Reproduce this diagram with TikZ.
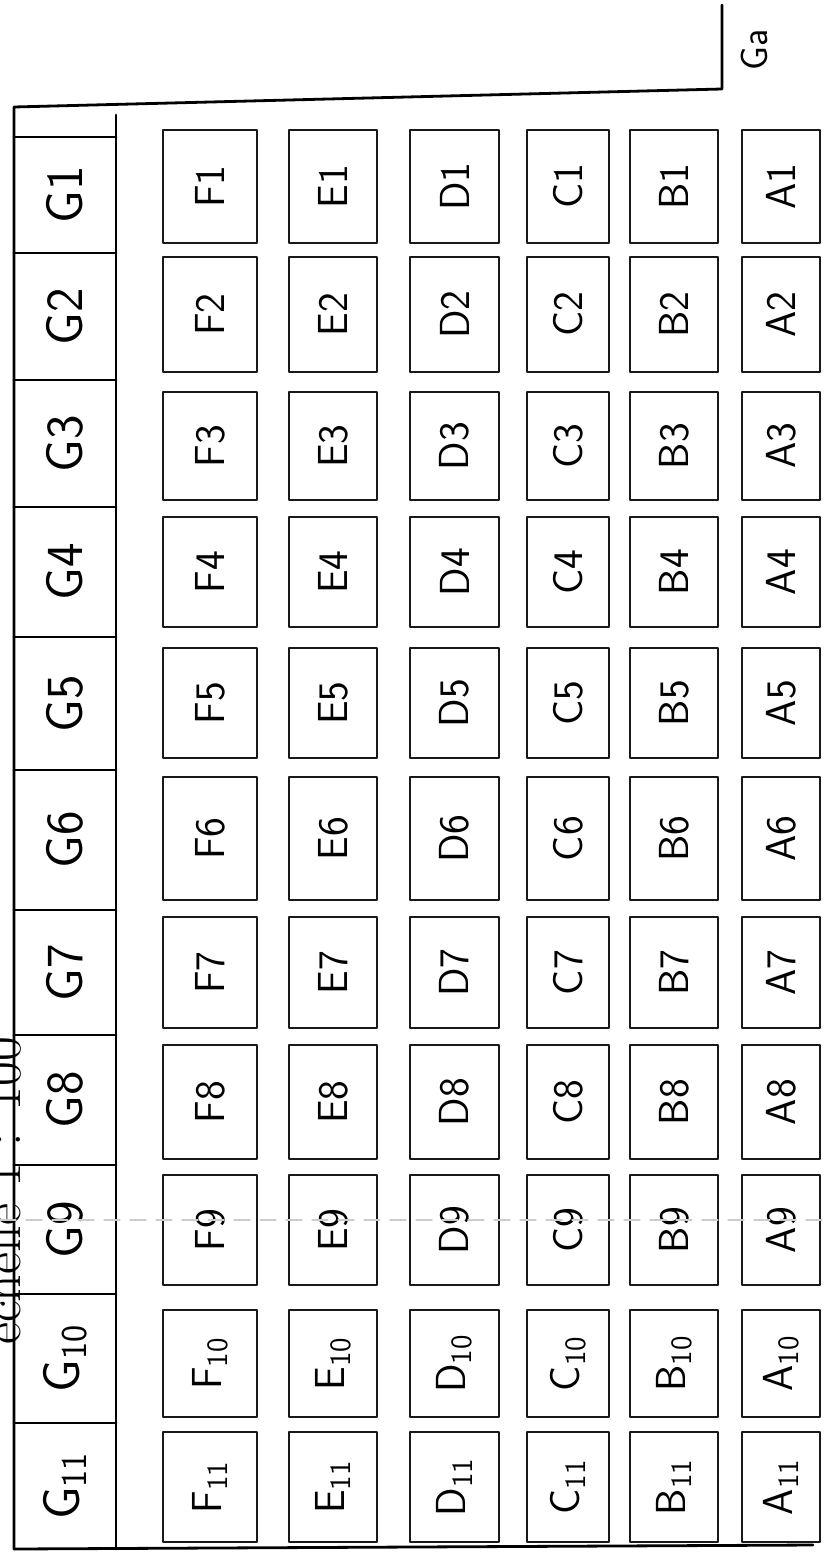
\documentclass[tikz,border=0pt]{standalone}
\usepackage{fontspec}
\newcommand{\etq}[2]{\ifnum#2>9 #1\textsubscript{#2}\else #1#2\fi}
\tikzset{
  marco/.style={draw=black,line width=1.4pt},
  caja/.style={draw=black!90,line width=1.3pt},
  etiq/.style={rotate=90,font=\sffamily\fontsize{21}{24}\selectfont,inner sep=0pt},
  etiqG/.style={etiq,font=\sffamily\fontsize{26}{28}\selectfont}
}
\begin{document}
\begin{tikzpicture}[x=0.5pt,y=-0.5pt,line cap=round,line join=round]
  \useasboundingbox (0,0) rectangle (826,1552);
  \def\xGl{14}          % borde izq. de la columna G
  \def\xGr{116}         % borde der. de la columna G

  % --- marco exterior
  \draw[marco] (\xGl,1549) -- (\xGl,107) -- (722,89) -- (722,5);
  \draw[marco] (\xGl,1549) -- (813,1545);
  \node[etiq,font=\sffamily\fontsize{19}{22}\selectfont] (ga) at (754,50) {Ga};

  % --- columna G (casillas contiguas)
  \draw[marco] (\xGr,115) -- (\xGr,1549);
  \foreach \yy in {137,253,380,507,637,770,910,1035,1165,1294,1423}
    \draw[marco] (\xGl,\yy) -- (\xGr,\yy);
  \foreach \r/\ya/\yb in {1/137/253,2/253/380,3/380/507,4/507/637,5/637/770,
      6/770/910,7/910/1035,8/1035/1165,9/1165/1294,10/1294/1423,11/1423/1549}
    \node[etiqG] (G\r) at ({(\xGl+\xGr)/2},{(\ya+\yb)/2}) {\etq{G}{\r}};

  % --- casillas F a A
  \foreach \r/\ya/\yb in {1/130/243,2/257/372,3/392/500,4/517/627,5/648/758,
      6/777/900,7/917/1028,8/1045/1159,9/1175/1285,10/1310/1417,11/1432/1542}{
    \foreach \c/\xa/\xb in {F/163/257,E/289/377,D/410/499,C/527/609,B/630/718,A/742/820}{
      \draw[caja] (\xa,\ya) rectangle (\xb,\yb);
      \node[etiq] (\c\r) at ({(\xa+\xb)/2},{(\ya+\yb)/2}) {\etq{\c}{\r}};
    }
  }

  % --- escala (cortada por el borde)
  \node[rotate=90,anchor=base west,font=\fontsize{27}{29}\selectfont,inner sep=0pt]
       (escala) at (20,1345) {échelle 1 : 100};

  % --- pliegue del papel
  \draw[gray!40,line width=0.6pt,dash pattern=on 8pt off 5pt] (0,1220) -- (826,1220);
\end{tikzpicture}
\end{document}
